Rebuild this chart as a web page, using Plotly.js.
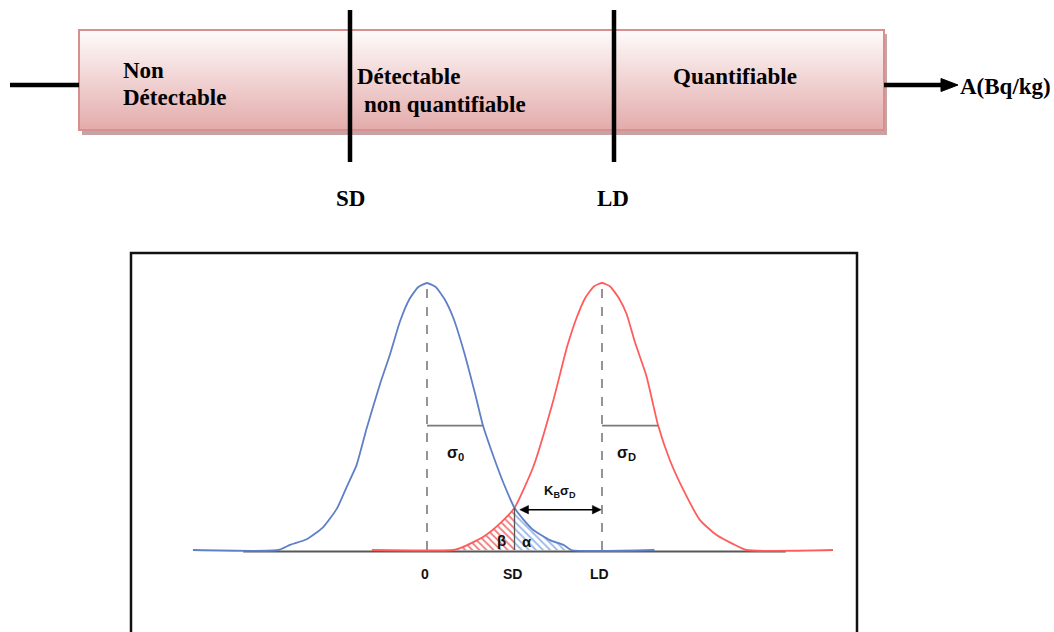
<!DOCTYPE html>
<html>
<head>
<meta charset="utf-8">
<script src="https://cdn.plot.ly/plotly-3.0.1.min.js"></script>
<style>html,body{margin:0;padding:0;background:#fff;}#chart{width:1054px;height:632px;}</style>
</head>
<body>
<div id="chart"></div>
<script>
// ---- data ----
const zoneLabels = ['Non', 'Détectable', 'Détectable', 'non quantifiable', 'Quantifiable'];
const thresholdLabels = ['SD', 'LD'];
const axisLabel = 'A(Bq/kg)';

// bottom chart: positions in units of sigma (0 = blank mean, SD = decision threshold, LD = detection limit)
const tickLabels = ['0', 'SD', 'LD'];
const tickValues = [0, 2, 4];
const sigmaLevel = 0.466;
const sigma0End = 1.28;
const sigmaDEnd = 5.28;
const crossY = 0.158;

const blueX = [-5.35, -3.4, -3.13, -2.75, -2.37, -2.06, -1.84, -1.61, -1.38, -1.07, -0.85, -0.62, -0.4, -0.2, 0, 0.2, 0.4, 0.6, 0.85, 1.1, 1.28, 1.52, 1.75, 2.0, 2.2, 2.43, 2.81, 3.12, 3.3, 5.2];
const blueY = [0, 0, 0.019, 0.04, 0.086, 0.155, 0.235, 0.318, 0.455, 0.624, 0.73, 0.855, 0.94, 0.985, 1, 0.985, 0.94, 0.87, 0.74, 0.585, 0.466, 0.35, 0.25, 0.158, 0.115, 0.075, 0.037, 0.019, 0, 0];
const redX = [-1.26, 0.6, 0.8, 1.0, 1.29, 1.67, 2.0, 2.43, 2.89, 3.2, 3.42, 3.62, 3.82, 4, 4.18, 4.38, 4.56, 4.75, 5.02, 5.28, 5.55, 5.86, 6.24, 6.62, 7.0, 7.3, 9.28];
const redY = [0, 0, 0.01, 0.025, 0.05, 0.1, 0.158, 0.312, 0.562, 0.76, 0.87, 0.945, 0.988, 1, 0.988, 0.945, 0.885, 0.78, 0.649, 0.468, 0.337, 0.225, 0.112, 0.056, 0.022, 0, 0];

// ---- layout helpers ----
const W = 1054, H = 632;
const px = x => x / W;
const py = y => 1 - y / H;
const SERIF = 'Liberation Serif, Times New Roman, serif';
const SANS = 'Liberation Sans, Arial, sans-serif';
const BLUE = '#5f80c6';
const RED = '#ff5c5c';

const SD = tickValues[1], LD = tickValues[2];

// hatched regions derived from the curves
const betaX = [], betaY = [];
redX.forEach((x, i) => { if (x <= SD) { betaX.push(x); betaY.push(redY[i]); } });
const alphaX = [], alphaY = [];
blueX.forEach((x, i) => { if (x >= SD && x <= 3.3) { alphaX.push(x); alphaY.push(blueY[i]); } });

const traces = [
  {x: betaX, y: betaY, type: 'scatter', mode: 'lines', fill: 'tozeroy',
   line: {width: 0, shape: 'spline', smoothing: 0.4}, fillcolor: 'rgba(0,0,0,0)',
   fillpattern: {shape: '\\', size: 5, solidity: 0.35, fgcolor: '#f27a7a', bgcolor: 'rgba(255,255,255,0)'},
   hoverinfo: 'skip', showlegend: false},
  {x: alphaX, y: alphaY, type: 'scatter', mode: 'lines', fill: 'tozeroy',
   line: {width: 0, shape: 'spline', smoothing: 0.4}, fillcolor: 'rgba(0,0,0,0)',
   fillpattern: {shape: '\\', size: 5, solidity: 0.35, fgcolor: '#9ab8e6', bgcolor: 'rgba(255,255,255,0)'},
   hoverinfo: 'skip', showlegend: false},
  {x: redX, y: redY, type: 'scatter', mode: 'lines', line: {color: RED, width: 1.8, shape: 'spline', smoothing: 0.5},
   hoverinfo: 'skip', showlegend: false},
  {x: blueX, y: blueY, type: 'scatter', mode: 'lines', line: {color: BLUE, width: 1.8, shape: 'spline', smoothing: 0.5},
   hoverinfo: 'skip', showlegend: false}
];

const shapes = [];
// ---- top diagram ----
// shadow
shapes.push({type: 'rect', xref: 'paper', yref: 'paper', x0: px(82), x1: px(887), y0: py(135), y1: py(34),
  fillcolor: '#c4a4a4', line: {width: 0}});
// gradient box
const bands = 40, boxTop = 30, boxBot = 130;
const c0 = [254, 250, 250], c1 = [228, 172, 172];
for (let i = 0; i < bands; i++) {
  const t = i / (bands - 1);
  const c = c0.map((v, k) => Math.round(v + (c1[k] - v) * t));
  const ya = boxTop + (boxBot - boxTop) * i / bands, yb = boxTop + (boxBot - boxTop) * (i + 1) / bands;
  shapes.push({type: 'rect', xref: 'paper', yref: 'paper', x0: px(79), x1: px(884), y0: py(yb + 0.5), y1: py(ya),
    fillcolor: `rgb(${c[0]},${c[1]},${c[2]})`, line: {width: 0}});
}
shapes.push({type: 'rect', xref: 'paper', yref: 'paper', x0: px(79), x1: px(884), y0: py(130), y1: py(30),
  fillcolor: 'rgba(0,0,0,0)', line: {color: '#d8908f', width: 2}});
// left axis stub
shapes.push({type: 'line', xref: 'paper', yref: 'paper', x0: px(10), x1: px(79), y0: py(85), y1: py(85),
  line: {color: '#000', width: 4.5}});
// right arrow
shapes.push({type: 'line', xref: 'paper', yref: 'paper', x0: px(884), x1: px(944), y0: py(85), y1: py(85),
  line: {color: '#000', width: 4.5}});
shapes.push({type: 'path', xref: 'paper', yref: 'paper',
  path: `M ${px(941)},${py(78.5)} L ${px(958)},${py(85)} L ${px(941)},${py(91.5)} Z`,
  fillcolor: '#000', line: {color: '#000', width: 1}});
// threshold bars
[350, 614].forEach(x => shapes.push({type: 'line', xref: 'paper', yref: 'paper', x0: px(x), x1: px(x),
  y0: py(10), y1: py(162), line: {color: '#000', width: 4.5}}));

// ---- bottom frame ----
shapes.push({type: 'rect', xref: 'paper', yref: 'paper', x0: px(131), x1: px(857), y0: -0.05, y1: py(253),
  fillcolor: 'rgba(0,0,0,0)', line: {color: '#111', width: 2.5}});

// ---- bottom chart guides ----
shapes.push({type: 'line', xref: 'x', yref: 'y', x0: -4.2, x1: 8.2, y0: -0.006, y1: -0.006,
  line: {color: '#585858', width: 2}, layer: 'below'});
tickValues.filter(v => v !== SD).forEach(v => shapes.push({type: 'line', xref: 'x', yref: 'y', x0: v, x1: v,
  y0: 0, y1: 1, line: {color: '#7a7a7a', width: 1.6, dash: 'dash'}, layer: 'below'}));
shapes.push({type: 'line', xref: 'x', yref: 'y', x0: SD, x1: SD, y0: 0, y1: crossY,
  line: {color: '#555', width: 1.3}});
shapes.push({type: 'line', xref: 'x', yref: 'y', x0: 0, x1: sigma0End, y0: sigmaLevel, y1: sigmaLevel,
  line: {color: '#7a7a7a', width: 1.6}});
shapes.push({type: 'line', xref: 'x', yref: 'y', x0: LD, x1: sigmaDEnd, y0: sigmaLevel, y1: sigmaLevel,
  line: {color: '#7a7a7a', width: 1.6}});
// K_B sigma_D double arrow (line + two heads)
const arrY = 0.151, arrL = SD + 0.12, arrR = LD - 0.02, headL = 0.2, headH = 0.016;
shapes.push({type: 'line', xref: 'x', yref: 'y', x0: arrL + 0.1, x1: arrR - 0.1, y0: arrY, y1: arrY,
  line: {color: '#000', width: 1.4}});
shapes.push({type: 'path', xref: 'x', yref: 'y',
  path: `M ${arrL},${arrY} L ${arrL + headL},${arrY + headH} L ${arrL + headL},${arrY - headH} Z`,
  fillcolor: '#000', line: {color: '#000', width: 0.5}});
shapes.push({type: 'path', xref: 'x', yref: 'y',
  path: `M ${arrR},${arrY} L ${arrR - headL},${arrY + headH} L ${arrR - headL},${arrY - headH} Z`,
  fillcolor: '#000', line: {color: '#000', width: 0.5}});

const annotations = [];
const addTop = (text, x, y, anchor) => annotations.push({text: '<b>' + text + '</b>', xref: 'paper', yref: 'paper',
  x: px(x), y: py(y), xanchor: anchor, yanchor: 'middle', showarrow: false,
  font: {family: SERIF, size: 23, color: '#000'}});
addTop(zoneLabels[0], 121, 70, 'left');
addTop(zoneLabels[1], 121, 98, 'left');
addTop(zoneLabels[2], 355, 77, 'left');
addTop(zoneLabels[3], 362, 104, 'left');
addTop(zoneLabels[4], 735, 77, 'center');
addTop(axisLabel, 958, 86, 'left');
addTop(thresholdLabels[0], 350, 198, 'center');
addTop(thresholdLabels[1], 613, 198, 'center');

// bottom chart labels
const sansB = (s) => ({family: SANS, size: s, color: '#111'});
tickLabels.forEach((t, i) => annotations.push({text: '<b>' + t + '</b>', xref: 'x', yref: 'y',
  x: tickValues[i] - 0.05, y: -0.09, showarrow: false, font: sansB(14)}));
annotations.push({text: '<b>σ<sub>0</sub></b>', xref: 'x', yref: 'y', x: 0.66, y: 0.36, showarrow: false, font: sansB(16)});
annotations.push({text: '<b>σ<sub>D</sub></b>', xref: 'x', yref: 'y', x: 4.57, y: 0.36, showarrow: false, font: sansB(16)});
annotations.push({text: '<b>K<sub>B</sub>σ<sub>D</sub></b>', xref: 'x', yref: 'y', x: 3.04, y: 0.22, showarrow: false, font: sansB(13)});
annotations.push({text: '<b>β</b>', xref: 'x', yref: 'y', x: 1.71, y: 0.035, showarrow: false, font: sansB(15)});
annotations.push({text: '<b>α</b>', xref: 'x', yref: 'y', x: 2.29, y: 0.033, showarrow: false, font: sansB(15)});

const layout = {
  width: W, height: H,
  margin: {l: 0, r: 0, t: 0, b: 0},
  paper_bgcolor: '#fff', plot_bgcolor: 'rgba(0,0,0,0)',
  showlegend: false,
  xaxis: {domain: [164.5 / W, 864.5 / W], range: [-6, 10], visible: false, fixedrange: true},
  yaxis: {domain: [1 - 630.1 / H, 1 - 256.3 / H], range: [-0.3, 1.1], visible: false, fixedrange: true},
  shapes: shapes,
  annotations: annotations
};

Plotly.newPlot('chart', traces, layout, {displayModeBar: false, staticPlot: true});
</script>
</body>
</html>
